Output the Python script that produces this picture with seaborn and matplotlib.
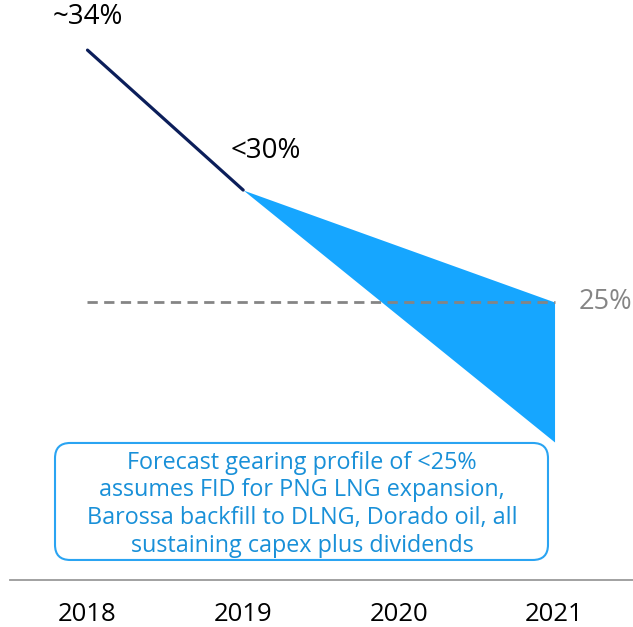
import numpy as np
import pandas as pd
import matplotlib
matplotlib.use('Agg')
import matplotlib.pyplot as plt
import seaborn as sns
from matplotlib.patches import FancyBboxPatch

# data
years = [2018, 2019, 2020, 2021]
actual_years = [2018, 2019]
actual_gearing = [34, 29]
forecast_years = [2019, 2021]
forecast_high = [29, 25]
forecast_low = [29, 20]
target = 25
point_labels = ['~34%', '<30%']
target_label = '25%'
note = ('Forecast gearing profile of <25%\n'
        'assumes FID for PNG LNG expansion,\n'
        'Barossa backfill to DLNG, Dorado oil, all\n'
        'sustaining capex plus dividends')

sns.set_style('white')
plt.rcParams['font.family'] = ['Open Sans', 'DejaVu Sans']

navy = '#0b1e5a'
blue = '#16a6ff'
text_blue = '#1990d8'
grey = '#858585'

fig = plt.figure(figsize=(6.33, 6.27), dpi=100)
ax = fig.add_axes([0, 0, 1, 1])

# forecast wedge
ax.fill_between(forecast_years, forecast_low, forecast_high, color=blue, lw=0)

# actual gearing line
df = pd.DataFrame({'year': actual_years, 'gearing': actual_gearing})
sns.lineplot(data=df, x='year', y='gearing', color=navy, lw=2.3, ax=ax)

# 25% target line
tgt = pd.DataFrame({'year': [years[0], years[-1]], 'gearing': [target, target]})
sns.lineplot(data=tgt, x='year', y='gearing', color=grey, lw=2, ax=ax,
             dashes=False, linestyle=(0, (3.7, 2.3)))

ax.set_xlim(2017.438, 2021.504)
ax.set_ylim(13.39, 35.79)

ax.annotate(point_labels[0], (actual_years[0], actual_gearing[0]), xytext=(0, 24),
            textcoords='offset points', ha='center', va='center', fontsize=20, color='black')
ax.annotate(point_labels[1], (actual_years[1], actual_gearing[1]), xytext=(-9, 28),
            textcoords='offset points', ha='left', va='center', fontsize=20, color='black')
ax.annotate(target_label, (years[-1], target), xytext=(17, 0),
            textcoords='offset points', ha='left', va='center', fontsize=19.5, color=grey)

# note box
box = FancyBboxPatch((0.0869, 0.1069), 0.7788, 0.1866, transform=ax.transAxes,
                     boxstyle='round,pad=0,rounding_size=0.024', mutation_aspect=1.01,
                     fc='white', ec='#2aa4f2', lw=1.5)
ax.add_patch(box)
ax.text(0.477, 0.196, note, transform=ax.transAxes, ha='center', va='center',
        fontsize=16.8, color=text_blue, linespacing=1.2)

# x axis
for s in ['top', 'left', 'right']:
    ax.spines[s].set_visible(False)
ax.spines['bottom'].set_position(('data', 15.07))
ax.spines['bottom'].set_bounds(2017.502, 2021.504)
ax.spines['bottom'].set_color('#9a9a9a')
ax.spines['bottom'].set_linewidth(1.3)
ax.set_xticks(years)
ax.set_xticklabels([str(y) for y in years])
ax.tick_params(axis='x', length=0, pad=16, labelsize=18.5, labelcolor='black')
ax.set_yticks([])
ax.set_xlabel('')
ax.set_ylabel('')

fig.savefig('out.png', dpi=100)
